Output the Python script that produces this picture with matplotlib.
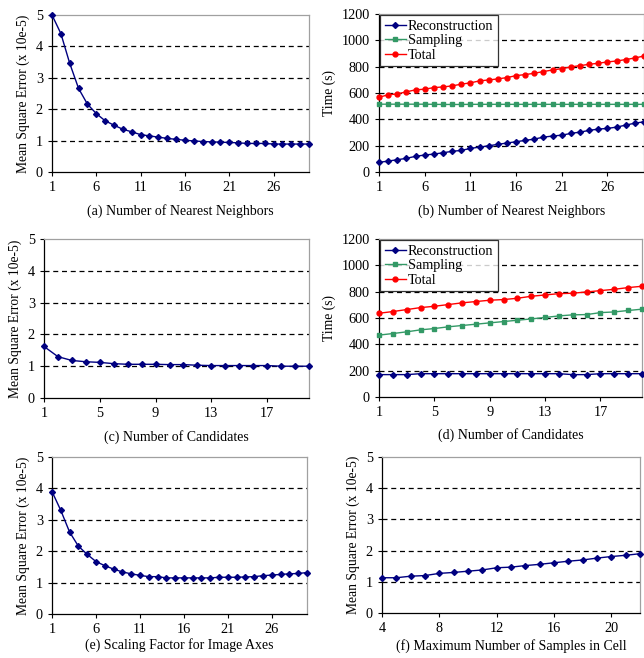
import matplotlib
matplotlib.use("Agg")
import matplotlib.pyplot as plt
import numpy as np

plt.rcParams['font.family'] = ['Liberation Serif', 'DejaVu Serif']
plt.rcParams['font.size'] = 10

# (a) MSE vs number of nearest neighbors
k_nn = list(range(1, 31))
mse_nn = [5.0, 4.41, 3.46, 2.66, 2.16, 1.86, 1.63, 1.49, 1.36, 1.28,
          1.19, 1.15, 1.11, 1.07, 1.04, 1.01, 0.99, 0.97, 0.96, 0.95,
          0.94, 0.93, 0.91, 0.91, 0.91, 0.89, 0.89, 0.89, 0.89, 0.89]

# (b) time vs number of nearest neighbors
recon_nn = [73, 83, 93, 104, 119, 129, 136, 146, 157, 164,
            179, 189, 199, 210, 220, 230, 240, 250, 265, 273,
            280, 293, 303, 316, 326, 331, 341, 356, 371, 381]
sampl_nn = [515, 515, 515, 515, 515, 515, 514, 513, 513, 513,
            514, 514, 514, 514, 514, 514, 514, 514, 514, 514,
            514, 514, 514, 514, 514, 514, 514, 514, 514, 514]
total_nn = [568, 586, 593, 609, 624, 629, 641, 646, 654, 667,
            677, 692, 699, 707, 717, 732, 740, 750, 763, 775,
            785, 798, 808, 818, 826, 836, 843, 854, 866, 881]

# (c) MSE vs number of candidates
n_cand = list(range(1, 21))
mse_cand = [1.62, 1.30, 1.18, 1.14, 1.12, 1.08, 1.06, 1.06, 1.06, 1.05,
            1.05, 1.03, 1.02, 1.02, 1.02, 1.02, 1.02, 1.00, 1.00, 1.00]

# (d) time vs number of candidates
recon_cand = [170, 170, 170, 177, 177, 177, 177, 177, 177, 177,
              177, 177, 177, 177, 170, 170, 177, 177, 177, 177]
sampl_cand = [470, 482, 495, 510, 520, 533, 543, 553, 563, 573,
              583, 593, 604, 616, 624, 626, 641, 646, 657, 667]
total_cand = [636, 649, 664, 679, 689, 702, 715, 725, 735, 740,
              750, 765, 775, 785, 788, 798, 808, 818, 831, 841]

# (e) MSE vs scaling factor
scale = list(range(1, 31))
mse_scale = [3.90, 3.30, 2.61, 2.16, 1.90, 1.67, 1.54, 1.43, 1.34, 1.28,
             1.23, 1.19, 1.19, 1.15, 1.15, 1.15, 1.15, 1.15, 1.15, 1.17,
             1.17, 1.17, 1.18, 1.19, 1.22, 1.24, 1.26, 1.28, 1.29, 1.32]

# (f) MSE vs max samples in cell
max_samp = list(range(4, 23))
mse_samp = [1.13, 1.13, 1.18, 1.20, 1.27, 1.30, 1.34, 1.38, 1.45, 1.47,
            1.52, 1.56, 1.61, 1.66, 1.70, 1.76, 1.81, 1.85, 1.90]

W, H = 644, 658
NAVY = '#000080'
GREEN = '#339966'
RED = '#ff0000'

fig = plt.figure(figsize=(W / 100, H / 100), dpi=100)


def make_ax(left, right, top, bottom):
    return fig.add_axes([left / W, 1 - bottom / H, (right - left) / W, (bottom - top) / H])


def style(ax, xlim, xticks, ylim, yticks, ylabel, caption, cap_off):
    ax.set_xlim(*xlim)
    ax.set_ylim(*ylim)
    ax.set_xticks(xticks)
    ax.set_yticks(yticks)
    for y in yticks[1:-1]:
        ax.axhline(y, color='black', lw=0.9, ls=(0, (4, 3)), zorder=1)
    for s in ['top', 'right']:
        ax.spines[s].set_color('#a0a0a0')
        ax.spines[s].set_linewidth(0.9)
    for s in ['left', 'bottom']:
        ax.spines[s].set_color('black')
        ax.spines[s].set_linewidth(0.9)
    ax.tick_params(direction='out', length=3, width=0.8, pad=3.5, labelsize=10.3)
    ax.set_ylabel(ylabel, fontsize=9.8, labelpad=4)
    ax.text(0.5, -cap_off, caption, transform=ax.transAxes, ha='center', va='center', fontsize=10)


def mse_plot(ax, x, y):
    ax.plot(x, y, color=NAVY, lw=1, marker='D', ms=3, zorder=3, clip_on=False)


def time_plot(ax, x, r, s, t, anchor_x):
    ax.plot(x, r, color=NAVY, lw=1, marker='D', ms=3, label='Reconstruction', zorder=3, clip_on=False)
    ax.plot(x, s, color=GREEN, lw=1, marker='s', ms=3.5, label='Sampling', zorder=3, clip_on=False)
    ax.plot(x, t, color=RED, lw=1, marker='o', ms=3.5, label='Total', zorder=3, clip_on=False)
    leg = ax.legend(loc='upper left', bbox_to_anchor=(anchor_x, 1.0), fontsize=10.2, frameon=True,
                    fancybox=False, edgecolor='black', handlelength=1.5, handletextpad=0.15,
                    borderpad=0.3, labelspacing=0.12, borderaxespad=0.1)
    leg.get_frame().set_linewidth(0.9)
    leg.set_zorder(5)


mse_label = 'Mean Square Error (x 10e-5)'
mse_ticks = [0, 1, 2, 3, 4, 5]
time_ticks = [0, 200, 400, 600, 800, 1000, 1200]

ax = make_ax(52, 309, 15, 172)
mse_plot(ax, k_nn, mse_nn)
style(ax, (1, 30), [1, 6, 11, 16, 21, 26], (0, 5), mse_ticks, mse_label,
      '(a) Number of Nearest Neighbors', 39 / 157)

ax = make_ax(379, 644, 14, 172)
time_plot(ax, k_nn, recon_nn, sampl_nn, total_nn, 0.0)
style(ax, (1, 30), [1, 6, 11, 16, 21, 26], (0, 1200), time_ticks, 'Time (s)',
      '(b) Number of Nearest Neighbors', 39 / 158)

ax = make_ax(44, 309, 239, 398)
mse_plot(ax, n_cand, mse_cand)
style(ax, (1, 20), [1, 5, 9, 13, 17], (0, 5), mse_ticks, mse_label,
      '(c) Number of Candidates', 39 / 159)

ax = make_ax(379, 642, 239, 397)
time_plot(ax, n_cand, recon_cand, sampl_cand, total_cand, 0.0)
style(ax, (1, 20), [1, 5, 9, 13, 17], (0, 1200), time_ticks, 'Time (s)',
      '(d) Number of Candidates', 38 / 158)

ax = make_ax(52, 307, 457, 614)
mse_plot(ax, scale, mse_scale)
style(ax, (1, 30), [1, 6, 11, 16, 21, 26], (0, 5), mse_ticks, mse_label,
      '(e) Scaling Factor for Image Axes', 31 / 157)

ax = make_ax(382, 640, 457, 613)
mse_plot(ax, max_samp, mse_samp)
style(ax, (4, 22), [4, 8, 12, 16, 20], (0, 5), mse_ticks, mse_label,
      '(f) Maximum Number of Samples in Cell', 33 / 156)

fig.savefig('out.png', dpi=100, facecolor='white')
